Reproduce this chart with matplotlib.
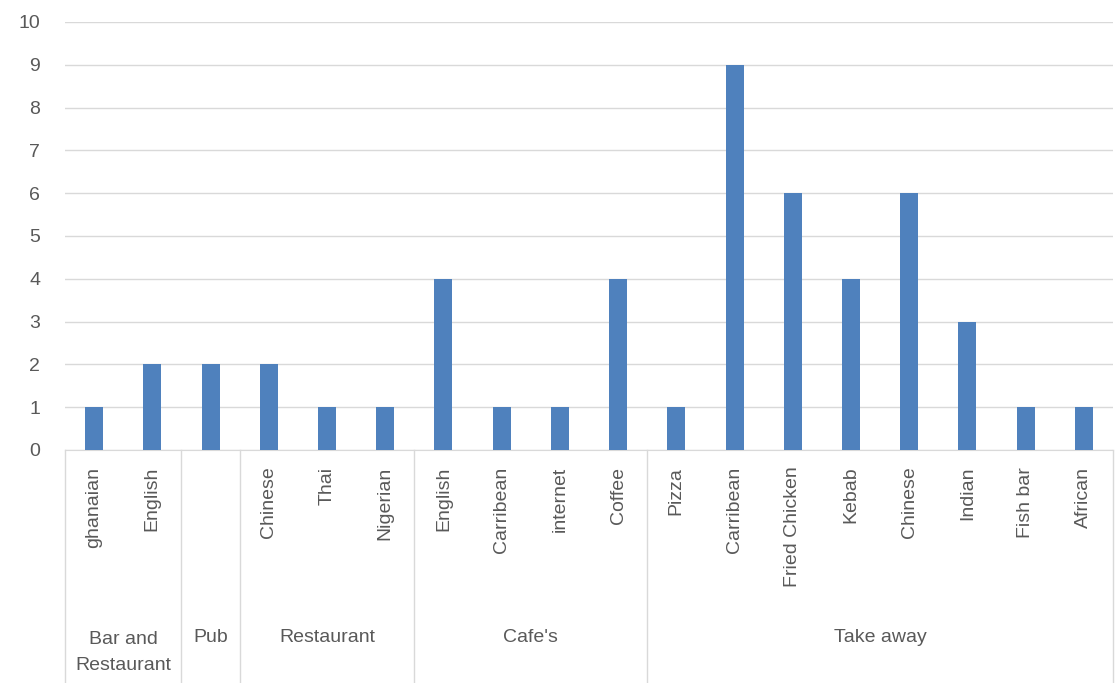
import matplotlib.pyplot as plt

# chart data
groups = ["Bar and\nRestaurant", "Pub", "Restaurant", "Cafe's", "Take away"]
group_sizes = [2, 1, 3, 4, 8]
labels = ["ghanaian", "English", "", "Chinese", "Thai", "Nigerian",
          "English", "Carribean", "internet", "Coffee",
          "Pizza", "Carribean", "Fried Chicken", "Kebab", "Chinese",
          "Indian", "Fish bar", "African"]
values = [1, 2, 2, 2, 1, 1, 4, 1, 1, 4, 1, 9, 6, 4, 6, 3, 1, 1]

BAR_COLOR = "#4f81bd"
GRID_COLOR = "#d9d9d9"
TEXT_COLOR = "#595959"
FS = 14

plt.rcParams["font.family"] = ["Liberation Sans", "DejaVu Sans"]

fig = plt.figure(figsize=(11.18, 6.83), dpi=100)
ax = fig.add_axes([65 / 1118, 1 - 450 / 683, (1113 - 65) / 1118, 428 / 683])

x = list(range(len(values)))
ax.bar(x, values, width=0.31, color=BAR_COLOR, zorder=3)

ax.set_xlim(-0.5, len(values) - 0.5)
ax.set_ylim(0, 10)
ax.set_yticks(range(0, 11))
ax.yaxis.grid(True, color=GRID_COLOR, linewidth=1)
ax.set_axisbelow(True)

for s in ["top", "right", "left"]:
    ax.spines[s].set_visible(False)
ax.spines["bottom"].set_color(GRID_COLOR)

ax.set_xticks(x)
ax.set_xticklabels(labels, rotation=90, fontsize=FS, color=TEXT_COLOR)
ax.tick_params(axis="x", length=0, pad=12)
ax.tick_params(axis="y", length=0, pad=18, labelsize=FS, labelcolor=TEXT_COLOR)

# group separators and group labels below the axis
trans = ax.get_xaxis_transform()
ax_h = 428
bottom = -(683 - 450) / ax_h
start = 0
ax.plot([-0.5, -0.5], [0, bottom], color=GRID_COLOR, lw=1, transform=trans, clip_on=False)
for name, size in zip(groups, group_sizes):
    end = start + size
    ax.plot([end - 0.5, end - 0.5], [0, bottom], color=GRID_COLOR, lw=1,
            transform=trans, clip_on=False)
    center = (start + end - 1) / 2
    if "\n" in name:
        ax.text(center, -(652.5 - 450) / ax_h, name, ha="center", va="center",
                fontsize=FS, color=TEXT_COLOR, transform=trans, linespacing=1.7)
    else:
        ax.text(center, -(637 - 450) / ax_h, name, ha="center", va="center",
                fontsize=FS, color=TEXT_COLOR, transform=trans)
    start = end

fig.savefig("out.png", dpi=100)
